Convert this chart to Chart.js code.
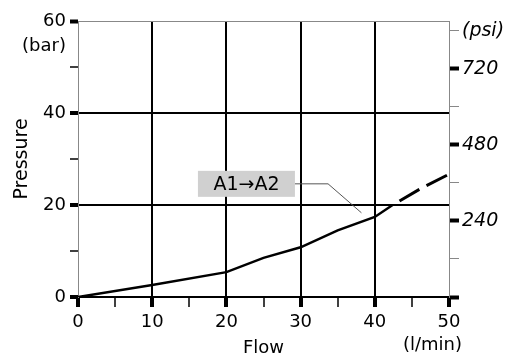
<!DOCTYPE html>
<html>
<head>
<meta charset="utf-8">
<script src="https://cdn.jsdelivr.net/npm/chart.js@4.4.1/dist/chart.umd.min.js"></script>
<style>
  body { margin: 0; background: #fff; }
</style>
</head>
<body>
<canvas id="myChart" width="512" height="358"></canvas>
<script>
// curve: solid part, then dashed part
var flowSolid = [0, 10, 20, 25, 30, 35, 40, 42.4];
var pressSolid = [0, 2.6, 5.4, 8.5, 10.8, 14.5, 17.4, 20];
var flowDashed = [42.4, 46, 50];
var pressDashed = [20, 23.4, 26.7];

// axis ticks
var flowTicks = [0, 5, 10, 15, 20, 25, 30, 35, 40, 45, 50];
var barTicks = [0, 10, 20, 30, 40, 50, 60];
var psiTicks = [0, 120, 240, 360, 480, 600, 720, 840];
var psiLabels = ["", "", "240", "", "480", "", "720", "(psi)"];

var BAR_TO_PSI = 14.5038;
var FONT = "'DejaVu Sans', sans-serif";

// callout "A1→A2" and its leader line, in data units
var calloutText = "A1\u2192A2";
var calloutAt = { x: 22.7, y: 24.6 };
var leader = [[29.2, 24.6], [33.7, 24.6], [38.2, 18.3]];

function toPoints(xs, ys) {
  return xs.map(function (v, i) { return { x: v, y: ys[i] }; });
}
function setTicks(list) {
  return function (scale) {
    scale.ticks = list.map(function (v) { return { value: v }; });
  };
}

var extras = {
  id: "extras",
  afterDraw: function (chart) {
    var ctx = chart.ctx;
    var x = chart.scales.x;
    var y = chart.scales.y;
    ctx.save();
    ctx.font = "18px " + FONT;
    ctx.fillStyle = "#000";
    ctx.textAlign = "right";
    ctx.textBaseline = "middle";
    ctx.fillText("(bar)", y.right - 12, y.getPixelForValue(60) + 25);
    ctx.fillText("(l/min)", x.getPixelForValue(50) + 13, x.top + 48);

    // leader line
    ctx.strokeStyle = "#555";
    ctx.lineWidth = 1;
    ctx.beginPath();
    leader.forEach(function (p, i) {
      var px = x.getPixelForValue(p[0]), py = y.getPixelForValue(p[1]);
      if (i === 0) ctx.moveTo(px, py); else ctx.lineTo(px, py);
    });
    ctx.stroke();

    // grey box with label
    var cx = x.getPixelForValue(calloutAt.x);
    var cy = y.getPixelForValue(calloutAt.y);
    ctx.fillStyle = "#d0d0d0";
    ctx.fillRect(cx - 48.5, cy - 13, 97, 26);
    ctx.fillStyle = "#000";
    ctx.font = "19px " + FONT;
    ctx.textAlign = "center";
    ctx.fillText(calloutText, cx, cy + 1);
    ctx.restore();
  }
};

new Chart("myChart", {
  type: "line",
  data: {
    datasets: [
      {
        data: toPoints(flowSolid, pressSolid),
        borderColor: "#000",
        borderWidth: 2.5,
        pointRadius: 0,
        tension: 0
      },
      {
        data: toPoints(flowDashed, pressDashed),
        borderColor: "#000",
        borderWidth: 3,
        borderDash: [23, 8],
        borderDashOffset: 23,
        pointRadius: 0,
        tension: 0
      }
    ]
  },
  options: {
    responsive: false,
    animation: false,
    layout: { padding: { top: 21, left: 0, right: 0, bottom: 0 } },
    plugins: { legend: { display: false }, tooltip: { enabled: false } },
    scales: {
      x: {
        type: "linear",
        min: 0,
        max: 50,
        afterBuildTicks: setTicks(flowTicks),
        afterFit: function (s) { s.height = 61; },
        border: { color: "#000", width: 2 },
        grid: {
          color: function (c) {
            var v = c.tick.value;
            return v % 10 === 0 && v > 0 && v < 50 ? "#000" : "rgba(0,0,0,0)";
          },
          lineWidth: 2,
          tickLength: 10,
          tickColor: "#000",
          tickWidth: function (c) { return c.tick.value % 10 === 0 ? 4 : 1.5; }
        },
        ticks: {
          color: "#000",
          padding: 5,
          maxRotation: 0,
          font: { family: FONT, size: 18 },
          callback: function (v) { return v % 10 === 0 ? String(v) : ""; }
        },
        title: {
          display: true,
          text: "Flow",
          color: "#000",
          padding: { top: 0, bottom: -1 },
          font: { family: FONT, size: 18 }
        }
      },
      y: {
        position: "left",
        min: 0,
        max: 60,
        afterBuildTicks: setTicks(barTicks),
        afterFit: function (s) { s.width = 78; },
        border: { color: "#888", width: 1 },
        grid: {
          color: function (c) {
            var v = c.tick.value;
            if (v === 60) return "#888";
            return v % 20 === 0 ? "#000" : "rgba(0,0,0,0)";
          },
          lineWidth: function (c) { return c.tick.value === 60 ? 1 : 2; },
          tickLength: 8,
          tickColor: "#000",
          tickWidth: function (c) { return c.tick.value % 20 === 0 ? 4 : 1.5; }
        },
        ticks: {
          color: "#000",
          padding: 4,
          font: { family: FONT, size: 18 },
          callback: function (v) { return v % 20 === 0 ? String(v) : ""; }
        },
        title: {
          display: true,
          text: "Pressure",
          color: "#000",
          padding: { top: 11, bottom: 0 },
          font: { family: FONT, size: 19 }
        }
      },
      psi: {
        position: "right",
        min: 0,
        max: 60 * BAR_TO_PSI,
        afterBuildTicks: setTicks(psiTicks),
        afterFit: function (s) { s.width = 63; },
        border: { color: "#888", width: 1 },
        grid: {
          drawOnChartArea: false,
          color: "#000",
          tickLength: 10,
          tickColor: function (c) { return c.tick.value % 240 === 0 ? "#000" : "#888"; },
          tickWidth: function (c) { return c.tick.value % 240 === 0 ? 4 : 1; }
        },
        ticks: {
          color: "#000",
          padding: 3,
          font: { family: FONT, size: 19, style: "italic" },
          callback: function (v) { return psiLabels[psiTicks.indexOf(v)]; }
        }
      }
    }
  },
  plugins: [extras]
});
</script>
</body>
</html>
